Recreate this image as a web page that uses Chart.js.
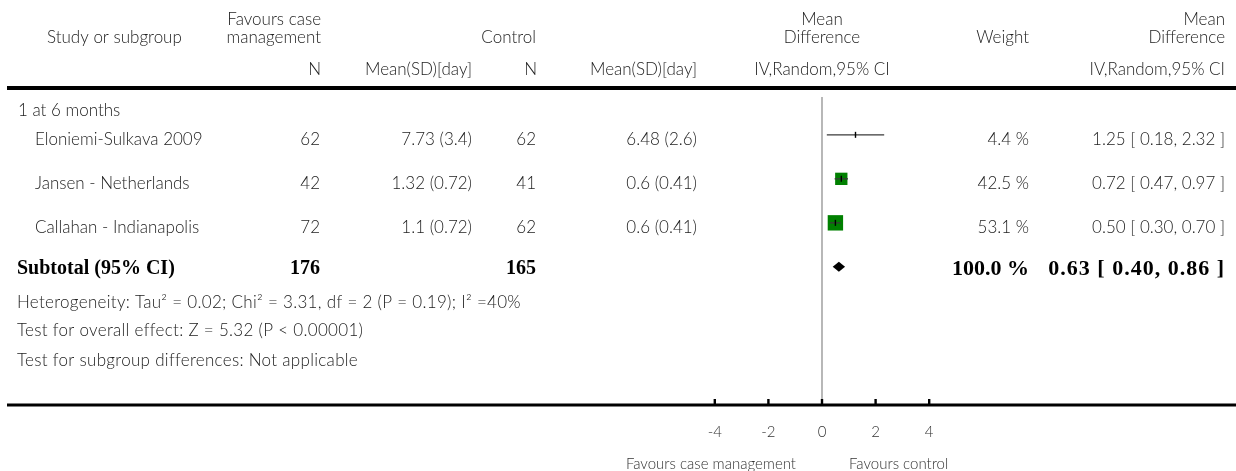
<!DOCTYPE html>
<html>
<head>
<meta charset="utf-8">
<script src="https://cdn.jsdelivr.net/npm/chart.js@4.4.0/dist/chart.umd.min.js"></script>
<style>
  html, body { margin: 0; padding: 0; background: #fff; }
  canvas { display: block; }
</style>
</head>
<body>
<canvas id="forest" width="1236" height="471"></canvas>
<script>
// study rows
const studies = ['Eloniemi-Sulkava 2009', 'Jansen - Netherlands', 'Callahan - Indianapolis'];
const caseN = [62, 42, 72];
const caseMeanSD = ['7.73 (3.4)', '1.32 (0.72)', '1.1 (0.72)'];
const controlN = [62, 41, 62];
const controlMeanSD = ['6.48 (2.6)', '0.6 (0.41)', '0.6 (0.41)'];
const md = [1.25, 0.72, 0.50];
const ciLow = [0.18, 0.47, 0.30];
const ciHigh = [2.32, 0.97, 0.70];
const weights = [4.4, 42.5, 53.1];

// pooled result
const subgroupLabel = '1 at 6 months';
const totalCaseN = 176;
const totalControlN = 165;
const pooledMD = 0.63;
const pooledLow = 0.40;
const pooledHigh = 0.86;
const pooledWeight = 100.0;

const footnotes = [
    'Heterogeneity: Tau² = 0.02; Chi² = 3.31, df = 2 (P = 0.19); I² =40%',
    'Test for overall effect: Z = 5.32 (P < 0.00001)',
    'Test for subgroup differences: Not applicable'
];

const xTicks = [-4, -2, 0, 2, 4];

const SANS = 'Lato, "Open Sans", sans-serif';
const SERIF = '"Liberation Serif", "DejaVu Serif", serif';
const TXT = '#222';
const GREEN = '#008000';

const ctx = document.getElementById('forest');

// row positions on the y scale
const SUBGROUP_ROW = 0.45;
const TOTAL_ROW = studies.length + 1;
const FOOT_ROWS = [4.8, 5.45, 6.14];

function text(c, str, x, y, align, font, color, spacing) {
    c.font = font;
    c.fillStyle = color || TXT;
    c.textAlign = align;
    c.textBaseline = 'middle';
    c.letterSpacing = spacing || '0px';
    c.fillText(str, x, y);
    c.letterSpacing = '0px';
}

const forestDecor = {
    id: 'forestDecor',
    beforeDatasetsDraw(chart) {
        const c = chart.ctx;
        const xs = chart.scales.x;
        const area = chart.chartArea;
        const W = chart.width;
        c.save();

        // header rule
        c.fillStyle = '#000';
        c.fillRect(7, 86, W - 7, 4);

        // header texts
        const hf = '300 17px ' + SANS;
        text(c, 'Study or subgroup', 47, 38, 'left', hf);
        text(c, 'Favours case', 321, 20, 'right', hf);
        text(c, 'management', 321, 38, 'right', hf);
        text(c, 'N', 321, 70, 'right', hf);
        text(c, 'Mean(SD)[day]', 472, 70, 'right', hf);
        text(c, 'Control', 536, 38, 'right', hf);
        text(c, 'N', 537, 70, 'right', hf);
        text(c, 'Mean(SD)[day]', 697, 70, 'right', hf);
        const x0 = xs.getPixelForValue(0);
        text(c, 'Mean', x0, 20, 'center', hf);
        text(c, 'Difference', x0, 38, 'center', hf);
        text(c, 'IV,Random,95% CI', x0, 70, 'center', hf);
        text(c, 'Weight', 1029, 38, 'right', hf);
        text(c, 'Mean', 1225, 20, 'right', hf);
        text(c, 'Difference', 1225, 38, 'right', hf);
        text(c, 'IV,Random,95% CI', 1225, 70, 'right', hf);

        // line of no effect
        c.strokeStyle = '#888';
        c.lineWidth = 1.2;
        c.beginPath();
        c.moveTo(x0, area.top);
        c.lineTo(x0, area.bottom);
        c.stroke();

        // bottom axis
        c.fillStyle = '#000';
        c.fillRect(7, area.bottom - 1.5, W - 7, 3);
        const tf = '300 15px ' + SANS;
        xTicks.forEach(v => {
            const px = xs.getPixelForValue(v);
            c.fillStyle = '#000';
            c.fillRect(px - 1.2, area.bottom - 6, 2.4, 6);
            text(c, String(v), px, area.bottom + 27, 'center', tf, '#333');
        });
        text(c, 'Favours case management', x0 - 26, 464, 'right', tf, '#333');
        text(c, 'Favours control', x0 + 27, 464, 'left', tf, '#333');
        c.restore();
    },
    afterDatasetsDraw(chart) {
        const c = chart.ctx;
        const xs = chart.scales.x;
        const ys = chart.scales.y;
        c.save();

        // confidence intervals and point ticks
        studies.forEach((s, i) => {
            const y = ys.getPixelForValue(i + 1);
            c.strokeStyle = '#3a3a3a';
            c.lineWidth = 1.3;
            c.beginPath();
            c.moveTo(xs.getPixelForValue(ciLow[i]), y);
            c.lineTo(xs.getPixelForValue(ciHigh[i]), y);
            c.stroke();
            const px = xs.getPixelForValue(md[i]);
            c.strokeStyle = '#000';
            c.lineWidth = 1.4;
            c.beginPath();
            c.moveTo(px, y - 3);
            c.lineTo(px, y + 3);
            c.stroke();
        });

        // pooled diamond
        const yd = ys.getPixelForValue(TOTAL_ROW);
        c.fillStyle = '#000';
        c.beginPath();
        c.moveTo(xs.getPixelForValue(pooledLow), yd);
        c.lineTo(xs.getPixelForValue(pooledMD), yd - 5);
        c.lineTo(xs.getPixelForValue(pooledHigh), yd);
        c.lineTo(xs.getPixelForValue(pooledMD), yd + 5);
        c.closePath();
        c.fill();

        // table rows
        const rf = '300 17px ' + SANS;
        text(c, subgroupLabel, 18, ys.getPixelForValue(SUBGROUP_ROW), 'left', rf);
        studies.forEach((s, i) => {
            const y = ys.getPixelForValue(i + 1) + 5;
            text(c, s, 35, y, 'left', rf);
            text(c, String(caseN[i]), 320, y, 'right', rf);
            text(c, caseMeanSD[i], 472, y, 'right', rf);
            text(c, String(controlN[i]), 536, y, 'right', rf);
            text(c, controlMeanSD[i], 697, y, 'right', rf);
            text(c, weights[i].toFixed(1) + ' %', 1029, y, 'right', rf);
            text(c, `${md[i].toFixed(2)} [ ${ciLow[i].toFixed(2)}, ${ciHigh[i].toFixed(2)} ]`, 1225, y, 'right', rf);
        });

        const bf = 'bold 20px ' + SERIF;
        const bfr = 'bold 22px ' + SERIF;
        const yt = yd + 2;
        text(c, 'Subtotal (95% CI)', 17, yt, 'left', bf, '#000');
        text(c, String(totalCaseN), 320, yt, 'right', bf, '#000');
        text(c, String(totalControlN), 536, yt, 'right', bf, '#000');
        text(c, pooledWeight.toFixed(1) + ' %', 1029, yt, 'right', bfr, '#000');
        text(c, `${pooledMD.toFixed(2)} [ ${pooledLow.toFixed(2)}, ${pooledHigh.toFixed(2)} ]`, 1225, yt, 'right', bfr, '#000', '1px');

        footnotes.forEach((f, i) => {
            text(c, f, 17, ys.getPixelForValue(FOOT_ROWS[i]), 'left', rf, null, '0.3px');
        });
        c.restore();
    }
};

new Chart(ctx, {
    type: 'scatter',
    data: {
        datasets: [{
            data: md.map((v, i) => ({ x: v, y: i + 1 })),
            pointStyle: 'rect',
            pointRadius: (c) => weights[c.dataIndex] * 0.29 / Math.SQRT2,
            pointHoverRadius: (c) => weights[c.dataIndex] * 0.29 / Math.SQRT2,
            backgroundColor: GREEN,
            borderWidth: 0,
        }]
    },
    options: {
        responsive: false,
        animation: false,
        events: [],
        layout: {
            padding: { left: 688, right: 280, top: 97, bottom: 66 }
        },
        plugins: {
            legend: { display: false },
            tooltip: { enabled: false }
        },
        scales: {
            x: { type: 'linear', min: -5, max: 5, display: false },
            y: { type: 'linear', min: 0.14, max: 7.14, reverse: true, display: false }
        }
    },
    plugins: [forestDecor]
});
</script>
</body>
</html>
